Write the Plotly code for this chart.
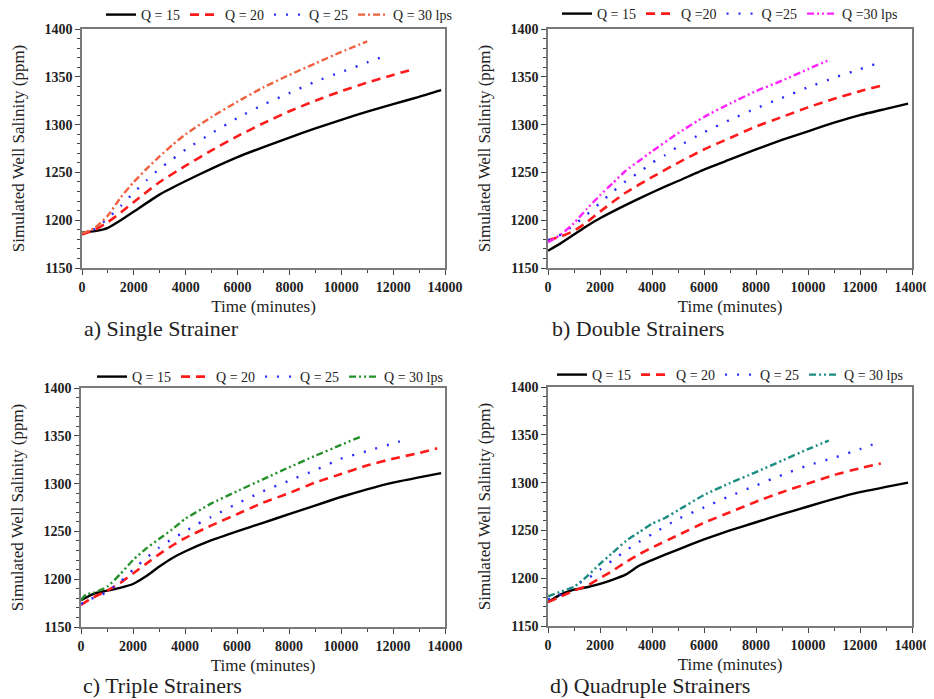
import plotly.graph_objects as go

# ---------------- data ----------------
# a) Single Strainer
a_t15 = [0, 500, 1000, 1500, 2000, 3000, 4000, 5000, 6000, 7000, 8000, 9000, 10000, 11000, 12000, 13000, 13850]
a_v15 = [1187, 1188.5, 1192, 1200, 1209, 1227, 1241, 1254, 1266, 1276.5, 1286.5, 1296, 1305, 1313.5, 1321.5, 1329, 1336]
a_t20 = [0, 500, 1000, 1500, 2000, 3000, 4000, 5000, 6000, 7000, 8000, 9000, 10000, 11000, 12000, 12800]
a_v20 = [1185, 1190, 1198, 1208, 1219, 1240, 1257, 1273, 1288, 1301.5, 1314, 1325, 1335, 1344, 1352, 1358]
a_t25 = [0, 500, 1000, 1500, 2000, 2500, 3000, 3500, 4000, 5000, 6000, 7000, 8000, 9000, 10000, 11000, 11700]
a_v25 = [1186, 1191, 1202, 1215, 1229, 1242, 1254, 1264, 1274, 1291, 1307, 1321, 1333, 1345, 1355, 1365, 1372]
a_t30 = [0, 500, 1000, 1500, 2000, 2500, 3000, 3500, 4000, 5000, 6000, 7000, 8000, 9000, 10000, 11000]
a_v30 = [1186, 1192, 1205, 1224, 1240, 1254, 1267, 1279, 1290, 1308, 1324, 1339, 1352, 1364, 1376, 1387]

# b) Double Strainers
b_t15 = [0, 500, 1000, 1500, 2000, 3000, 4000, 5000, 6000, 7000, 8000, 9000, 10000, 11000, 12000, 13000, 13850]
b_v15 = [1168, 1176, 1185, 1194, 1202, 1216, 1229, 1241, 1253, 1263.5, 1274, 1284, 1293, 1302, 1310, 1316.5, 1322]
b_t20 = [0, 500, 1000, 1500, 2000, 3000, 4000, 5000, 6000, 7000, 8000, 9000, 10000, 11000, 12000, 12850]
b_v20 = [1179, 1183, 1189, 1198, 1209, 1229, 1245, 1260, 1274, 1286, 1298, 1308, 1318, 1327, 1335, 1341]
b_t25 = [0, 500, 1000, 1500, 2000, 2500, 3000, 3500, 4000, 4500, 5000, 6000, 7000, 8000, 9000, 10000, 11000, 12000, 12550]
b_v25 = [1179, 1185, 1195, 1206, 1218, 1230, 1241, 1250, 1260, 1268, 1277, 1292, 1305, 1317, 1328, 1339, 1349, 1358, 1363]
b_t30 = [0, 500, 1000, 1500, 2000, 2500, 3000, 3500, 4000, 5000, 6000, 7000, 8000, 9000, 10000, 10850]
b_v30 = [1177, 1185, 1197, 1212, 1226, 1239, 1252, 1262, 1272, 1291, 1308, 1322, 1335, 1346, 1358, 1368]

# c) Triple Strainers
c_t15 = [0, 500, 1000, 1500, 2000, 2500, 3000, 3500, 4000, 5000, 6000, 7000, 8000, 9000, 10000, 11000, 12000, 13000, 13850]
c_v15 = [1178, 1185, 1188, 1191, 1195, 1203, 1213, 1222, 1229, 1240.5, 1250, 1259, 1268, 1277, 1286, 1294, 1301, 1306.5, 1311]
c_t20 = [0, 400, 1000, 1500, 2000, 2500, 3000, 3500, 4000, 5000, 6000, 7000, 8000, 9000, 10000, 11000, 12000, 13000, 13700]
c_v20 = [1173, 1180, 1188, 1196, 1206, 1216, 1226, 1235, 1243, 1256, 1268, 1280, 1290, 1301, 1310, 1319, 1326, 1332, 1337]
c_t25 = [0, 300, 700, 1000, 1500, 2000, 2500, 3000, 3500, 4000, 4500, 5000, 6000, 7000, 8000, 9000, 10000, 11000, 12000, 12500]
c_v25 = [1174, 1179, 1182, 1187, 1197, 1210, 1222, 1233, 1242, 1250, 1258, 1265, 1279, 1292, 1303, 1314, 1326, 1334, 1342, 1346]
c_t30 = [0, 200, 500, 1000, 1500, 2000, 2500, 3000, 3500, 4000, 5000, 6000, 7000, 8000, 9000, 10000, 10750]
c_v30 = [1178, 1184, 1186, 1192, 1205, 1220, 1232, 1242, 1252, 1263, 1279, 1292, 1304.5, 1317, 1329, 1340.5, 1349]

# d) Quadruple Strainers
d_t15 = [0, 500, 1000, 1500, 2000, 2500, 3000, 3500, 4000, 5000, 6000, 7000, 8000, 9000, 10000, 11000, 12000, 13000, 13850]
d_v15 = [1175, 1183, 1188, 1190.5, 1194, 1198.5, 1204, 1213, 1219, 1230, 1240.5, 1250, 1258.5, 1267, 1275, 1283, 1290, 1295.5, 1300]
d_t20 = [0, 500, 1000, 1500, 2000, 2500, 3000, 3500, 4000, 5000, 6000, 7000, 8000, 9000, 10000, 11000, 12000, 12800]
d_v20 = [1175, 1181, 1187, 1192, 1200, 1208, 1217, 1225, 1232, 1245, 1258, 1269, 1280, 1290, 1299, 1308, 1315, 1320]
d_t25 = [0, 500, 1000, 1500, 2000, 2500, 3000, 3500, 4000, 5000, 6000, 7000, 8000, 9000, 10000, 11000, 12000, 12600]
d_v25 = [1178, 1183, 1192, 1199, 1209, 1219, 1229, 1238, 1246, 1262, 1274, 1286, 1297, 1308, 1318, 1326, 1335, 1341]
d_t30 = [0, 500, 1000, 1500, 2000, 2500, 3000, 3500, 4000, 4500, 5000, 6000, 7000, 8000, 9000, 10000, 10800]
d_v30 = [1181, 1186, 1191, 1202, 1215, 1227, 1239, 1248, 1257, 1263, 1271, 1287, 1299.5, 1311, 1323, 1335, 1344]

panel_titles = ["a) Single Strainer", "b) Double Strainers", "c) Triple Strainers", "d) Quadruple Strainers"]
legend_names = [
    ["Q = 15", "Q = 20", "Q = 25", "Q = 30 lps"],
    ["Q = 15", "Q =20", "Q =25", "Q =30 lps"],
    ["Q = 15", "Q = 20", "Q = 25", "Q = 30 lps"],
    ["Q = 15", "Q = 20", "Q = 25", "Q = 30 lps"],
]
x_ticks = [0, 2000, 4000, 6000, 8000, 10000, 12000, 14000]
x_ticktext = ["0", "2000", "4000", "6000", "8000", "10000", "12000", "14000"]
y_ticks = [1150, 1200, 1250, 1300, 1350, 1400]
y_ticktext = ["1150", "1200", "1250", "1300", "1350", "1400"]

# ---------------- styling ----------------
SERIF = "Liberation Serif"
DD = "7px,3px,2px,3px"
DDD = "7px,3px,2px,3px,2px,3px"
styles = [
    [("#000000", "solid", 2.4), ("#FF1A1A", "9px,6px", 2.6), ("#2B2BFF", "2px,10px", 2.4), ("#F0603E", DD, 2.4)],
    [("#000000", "solid", 2.4), ("#FF1A1A", "9px,6px", 2.6), ("#2B2BFF", "2px,10px", 2.4), ("#FF22FF", DDD, 2.4)],
    [("#000000", "solid", 2.4), ("#FF1A1A", "9px,6px", 2.6), ("#2B2BFF", "2px,10px", 2.4), ("#23902A", DDD, 2.4)],
    [("#000000", "solid", 2.4), ("#FF1A1A", "9px,6px", 2.6), ("#2B2BFF", "2px,10px", 2.4), ("#1A8C80", DDD, 2.4)],
]
panels = [
    [(a_t15, a_v15), (a_t20, a_v20), (a_t25, a_v25), (a_t30, a_v30)],
    [(b_t15, b_v15), (b_t20, b_v20), (b_t25, b_v25), (b_t30, b_v30)],
    [(c_t15, c_v15), (c_t20, c_v20), (c_t25, c_v25), (c_t30, c_v30)],
    [(d_t15, d_v15), (d_t20, d_v20), (d_t25, d_v25), (d_t30, d_v30)],
]

# page has an 8px body margin: figure coordinates = page coordinates - 8
OFF = 8
W, H = 934 - OFF, 699 - OFF
# plot-area boxes in page pixels (left, right, top, bottom)
boxes = [(82, 445, 29, 268), (548, 912, 29, 268), (81, 445, 388, 627), (548, 912, 387, 626)]
legend_pos = [(101, 15), (557, 14), (92, 377), (552, 375)]
sub_pos = [(82, 328), (550, 328), (81, 685), (548, 685)]


def fx(px):
    return (px - OFF) / W


def fy(py):
    return 1 - (py - OFF) / H


fig = go.Figure()
layout = dict(width=W, height=H, margin=dict(l=0, r=0, t=0, b=0, autoexpand=False),
              paper_bgcolor="white", plot_bgcolor="white",
              font=dict(family=SERIF, color="#222222"), annotations=[])

for i in range(4):
    sfx = "" if i == 0 else str(i + 1)
    lg = "legend" if i == 0 else "legend" + str(i + 1)
    for j, (t, v) in enumerate(panels[i]):
        col, dash, w = styles[i][j]
        fig.add_trace(go.Scatter(x=t, y=v, mode="lines", name=legend_names[i][j],
                                 line=dict(color=col, dash=dash, width=w, shape="spline", smoothing=0.5),
                                 xaxis="x" + sfx, yaxis="y" + sfx, legend=lg))
    l, r, tp, bt = boxes[i]
    axcommon = dict(showline=True, linecolor="#7a7a7a", linewidth=1.5, mirror=True,
                    ticks="outside", ticklen=5, tickwidth=1.2, tickcolor="#444444",
                    showgrid=False, zeroline=False, automargin=False,
                    tickfont=dict(family=SERIF, size=14, color="#222222", weight="bold"))
    layout["xaxis" + sfx] = dict(axcommon, domain=[fx(l), fx(r)], range=[0, 14000],
                                 tickvals=x_ticks, ticktext=x_ticktext, anchor="y" + sfx,
                                 minor=dict(dtick=1000, ticks="outside", ticklen=3, tickcolor="#444444"),
                                 title=dict(text="Time (minutes)", font=dict(size=17, family=SERIF), standoff=7))
    layout["yaxis" + sfx] = dict(axcommon, domain=[fy(bt), fy(tp)], range=[1150, 1400],
                                 tickvals=y_ticks, ticktext=y_ticktext, anchor="x" + sfx,
                                 minor=dict(dtick=10, ticks="outside", ticklen=3, tickcolor="#444444"),
                                 title=dict(text="Simulated Well Salinity (ppm)", font=dict(size=17, family=SERIF), standoff=16))
    lx, ly = legend_pos[i]
    layout[lg] = dict(x=fx(lx), y=fy(ly), xanchor="left", yanchor="middle", orientation="h",
                      bgcolor="rgba(0,0,0,0)", font=dict(family=SERIF, size=14, color="#222222"),
                      itemwidth=30, tracegroupgap=0)
    sx, sy = sub_pos[i]
    layout["annotations"].append(dict(text=panel_titles[i], x=fx(sx), y=fy(sy), xref="paper", yref="paper",
                                      xanchor="left", yanchor="middle", showarrow=False,
                                      font=dict(family=SERIF, size=22, color="#222222")))

fig.update_layout(**layout)
fig.write_html("out.html")
